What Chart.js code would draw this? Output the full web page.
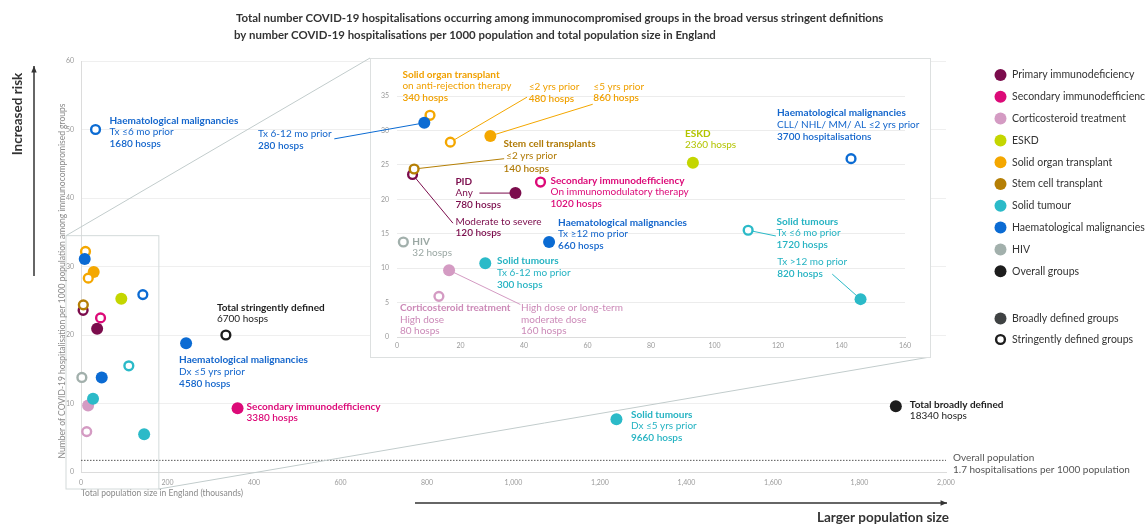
<!DOCTYPE html>
<html lang="en">
<head>
<meta charset="UTF-8">
<title>COVID-19 hospitalisations among immunocompromised groups</title>
<script src="https://cdn.jsdelivr.net/npm/chart.js"></script>
<style>
  html, body { margin: 0; padding: 0; background: #fff; }
  #wrap { position: relative; width: 1145px; height: 526px; }
  #wrap canvas { position: absolute; left: 0; top: 0; }
  #insetChart { pointer-events: none; }
</style>
</head>
<body>
<div id="wrap">
  <canvas id="mainChart" width="1145" height="526"></canvas>
  <canvas id="insetChart" width="1145" height="526"></canvas>
</div>

<script>
// ---- data ----
const groups = ['Primary immunodeficiency', 'Secondary immunodefficiency', 'Corticosteroid treatment', 'ESKD',
  'Solid organ transplant', 'Stem cell transplant', 'Solid tumour', 'Haematological malignancies', 'HIV', 'Overall groups'];

// one entry per point
const pointGroup   = [0, 0, 1, 1, 2, 2, 3, 4, 4, 4, 5, 6, 6, 6, 6, 7, 7, 7, 7, 7, 8, 9, 9];
const pointBroad   = [true, false, true, false, true, false, true, true, false, false, false,
                      true, false, true, true, true, false, false, true, true, false, false, true];
const populationK  = [37.3, 4.9, 362, 45.2, 16.4, 13.2, 93.2, 29.4, 16.8, 10.4, 5.4,
                      1238, 110.6, 27.8, 146, 243, 143, 33.6, 8.6, 47.9, 2.0, 335, 1884];
const hospsPer1000 = [20.9, 23.6, 9.3, 22.5, 9.7, 5.9, 25.3, 29.2, 28.3, 32.2, 24.4,
                      7.7, 15.5, 10.7, 5.5, 18.8, 25.9, 50.0, 31.1, 13.8, 13.8, 20.0, 9.6];
const hospitalisations = [780, 120, 3380, 1020, 160, 80, 2360, 860, 480, 340, 140,
                      9660, 1720, 300, 820, 4580, 3700, 1680, 280, 660, 32, 6700, 18340];

const overallRate = 1.7;
const xTicksMain = [0, 200, 400, 600, 800, 1000, 1200, 1400, 1600, 1800, 2000];
const yTicksMain = [0, 10, 20, 30, 40, 50, 60];
const xTicksInset = [0, 20, 40, 60, 80, 100, 120, 140, 160];
const yTicksInset = [0, 5, 10, 15, 20, 25, 30, 35];

// ---- styles ----
const groupColours = ['#7b0c4c', '#dc0a78', '#d49bc3', '#c4d600', '#f4a700', '#b57f05', '#2bbac8', '#0b6bd3', '#a2b0ac', '#1d1d1d'];
const textColours  = ['#7b0c4c', '#dc0a78', '#cc8ab8', '#b3c400', '#f0a000', '#b07a05', '#25b3c2', '#1466cc', '#9aa7a3', '#1d1d1d'];
const FONT = 'Lato, "Open Sans", sans-serif';
Chart.defaults.font.family = FONT;

// inset panel on the page
const panel = { left: 370, top: 58, right: 930, bottom: 357 };

// text notes: offsets from the point, in pixels; weights b=bold n=normal s=semibold
const mainNotes = [
  { pt: 17, dx: 14, dy: -9, w: 'bns', lines: ['Haematological malignancies', 'Tx ≤6 mo prior', '{n} hosps'] },
  { pt: 21, dx: -9, dy: -27.5, w: 'bn', lines: ['Total stringently defined', '{n} hosps'] },
  { pt: 15, dx: -7, dy: 16.7, w: 'bns', lines: ['Haematological malignancies', 'Dx ≤5 yrs prior', '{n} hosps'] },
  { pt: 2, dx: 9, dy: -2, w: 'bs', lines: ['Secondary immunodefficiency', '{n} hosps'] },
  { pt: 11, dx: 14.5, dy: -4.7, w: 'bns', lines: ['Solid tumours', 'Dx ≤5 yrs prior', '{n} hosps'] },
  { pt: 22, dx: 14, dy: -1.7, w: 'bn', lines: ['Total broadly defined', '{n} hosps'] }
];
const insetNotes = [
  { pt: 9, dx: -27.6, dy: -40.7, w: 'bns', lines: ['Solid organ transplant', 'on anti-rejection therapy', '{n} hosps'] },
  { pt: 8, dx: 78.3, dy: -55, w: 'ns', lines: ['≤2 yrs prior', '{n} hosps'], lead: [76.7, -45] },
  { pt: 7, dx: 103, dy: -49.4, w: 'ns', lines: ['≤5 yrs prior', '{n} hosps'], lead: [102.4, -31.7] },
  { pt: 10, dx: 89.4, dy: -25.3, w: 'bns', lh: 12.4, lines: ['Stem cell transplants', ' ≤2 yrs prior', '{n} hosps'], lead: [90, -10.3] },
  { pt: 0, dx: -60, dy: -11.6, w: 'bns', lines: ['PID', 'Any', '{n} hosps'], lead: [-36, 0] },
  { pt: 1, dx: 43, dy: 47, w: 'ns', lines: ['Moderate to severe', '{n} hosps'], lead: [40.4, 48.7] },
  { pt: 3, dx: 10, dy: -1.7, w: 'bns', lines: ['Secondary immunodefficiency', 'On immunomodulatory therapy', '{n} hosps'] },
  { pt: 19, dx: 9, dy: -19.4, w: 'bns', lines: ['Haematological malignancies', 'Tx ≥12 mo prior', '{n} hosps'] },
  { pt: 20, dx: 9, dy: -0.4, w: 'bn', lines: ['HIV', '{n} hosps'] },
  { pt: 13, dx: 11.7, dy: -2.3, w: 'bns', lines: ['Solid tumours', 'Tx 6-12 mo prior', '{n} hosps'] },
  { pt: 5, dx: -39, dy: 11.3, w: 'bnn', lines: ['Corticosteroid treatment', 'High dose', '{n} hosps'] },
  { pt: 4, dx: 72, dy: 37.6, w: 'nnn', lines: ['High dose or long-term', 'moderate dose', '{n} hosps'], lead: [71.3, 34.3] },
  { pt: 6, dx: -8, dy: -29.3, w: 'bn', lines: ['ESKD', '{n} hosps'] },
  { pt: 16, dx: -74, dy: -45.7, w: 'bns', lines: ['Haematological malignancies', 'CLL/ NHL/ MM/ AL ≤2 yrs prior', '{n} hospitalisations'] },
  { pt: 12, dx: 28.4, dy: -8.7, w: 'bns', lines: ['Solid tumours', 'Tx ≤6 mo prior', '{n} hosps'], lead: [27.7, 5.7] },
  { pt: 14, dx: -83.3, dy: -37, w: 'ns', lines: ['Tx >12 mo prior', '{n} hosps'], lead: [-28.3, -25] },
  { pt: 18, dx: -166.3, dy: 11.3, w: 'ns', lines: ['Tx 6-12 mo prior', '{n} hosps'], lead: [-90, 16] }
];

// ---- helpers ----
function pointPx(chart, i) {
  return { x: chart.scales.x.getPixelForValue(populationK[i]), y: chart.scales.y.getPixelForValue(hospsPer1000[i]) };
}

function drawLeaders(chart, notes) {
  const ctx = chart.ctx;
  ctx.save();
  ctx.lineWidth = 1;
  notes.filter(n => n.lead).forEach(n => {
    const p = pointPx(chart, n.pt);
    ctx.strokeStyle = groupColours[pointGroup[n.pt]];
    ctx.beginPath();
    ctx.moveTo(p.x, p.y);
    ctx.lineTo(p.x + n.lead[0], p.y + n.lead[1]);
    ctx.stroke();
  });
  ctx.restore();
}

function drawNotes(chart, notes) {
  const ctx = chart.ctx;
  ctx.save();
  ctx.textAlign = 'left';
  ctx.textBaseline = 'middle';
  notes.forEach(n => {
    const p = pointPx(chart, n.pt);
    const lh = n.lh || 11.7;
    ctx.fillStyle = textColours[pointGroup[n.pt]];
    n.lines.forEach((s, k) => {
      const wt = { b: 'bold', s: '600', n: 'normal' }[n.w[k]];
      ctx.font = wt + ' 10px ' + FONT;
      ctx.fillText(s.replace('{n}', hospitalisations[n.pt]), p.x + n.dx, p.y + n.dy + k * lh);
    });
  });
  ctx.restore();
}

function arrow(ctx, x1, y1, x2, y2) {
  const a = Math.atan2(y2 - y1, x2 - x1);
  ctx.beginPath();
  ctx.moveTo(x1, y1);
  ctx.lineTo(x2, y2);
  ctx.stroke();
  ctx.beginPath();
  ctx.moveTo(x2, y2);
  ctx.lineTo(x2 - 7 * Math.cos(a - 0.4), y2 - 7 * Math.sin(a - 0.4));
  ctx.lineTo(x2 - 7 * Math.cos(a + 0.4), y2 - 7 * Math.sin(a + 0.4));
  ctx.closePath();
  ctx.fill();
}

function pointDataset(indices) {
  return {
    data: indices.map(i => ({ x: populationK[i], y: hospsPer1000[i] })),
    backgroundColor: indices.map(i => pointBroad[i] ? groupColours[pointGroup[i]] : '#ffffff'),
    borderColor: indices.map(i => groupColours[pointGroup[i]]),
    borderWidth: indices.map(i => pointBroad[i] ? 0 : 2.4),
    pointRadius: indices.map(i => pointBroad[i] ? 6 : 4.4),
    clip: false
  };
}

// ---- main chart plugin: titles, legend, zoom box, notes ----
const mainDecor = {
  id: 'mainDecor',
  beforeDatasetsDraw(chart) { drawLeaders(chart, mainNotes); },
  afterDatasetsDraw(chart) {
    const ctx = chart.ctx, xs = chart.scales.x, ys = chart.scales.y, area = chart.chartArea;
    drawNotes(chart, mainNotes);

    // overall population note
    ctx.save();
    ctx.fillStyle = '#555';
    ctx.font = '10px ' + FONT;
    ctx.textBaseline = 'middle';
    const yl = ys.getPixelForValue(overallRate);
    ctx.fillText('Overall population', area.right + 7, yl - 2.5);
    ctx.fillText('1.7 hospitalisations per 1000 population', area.right + 7, yl + 9);

    // zoom box and connectors to the inset
    const bx1 = xs.getPixelForValue(0) - 15, bx2 = xs.getPixelForValue(180);
    const by1 = ys.getPixelForValue(34.5), by2 = area.bottom + 17;
    ctx.strokeStyle = '#d3dada';
    ctx.lineWidth = 1;
    ctx.strokeRect(bx1, by1, bx2 - bx1, by2 - by1);
    ctx.strokeStyle = '#c2cccc';
    ctx.beginPath();
    ctx.moveTo(bx1, by1); ctx.lineTo(panel.left, panel.top);
    ctx.moveTo(bx2, by2); ctx.lineTo(panel.right, panel.bottom);
    ctx.stroke();

    // chart title
    ctx.fillStyle = '#333';
    ctx.textAlign = 'left';
    ctx.font = 'bold 13px ' + FONT;
    const t1 = 'Total number COVID-19 hospitalisations occurring among immunocompromised groups in the broad versus stringent definitions';
    const size = 13 * 648 / ctx.measureText(t1).width;
    ctx.font = 'bold ' + size.toFixed(2) + 'px ' + FONT;
    ctx.fillText(t1, 236, 18);
    ctx.fillText('by number COVID-19 hospitalisations per 1000 population and total population size in England', 234, 35);

    // y axis title
    ctx.save();
    ctx.translate(62, 281);
    ctx.rotate(-Math.PI / 2);
    ctx.textAlign = 'center';
    ctx.fillStyle = '#8a8a8a';
    ctx.font = '8.5px ' + FONT;
    ctx.fillText('Number of COVID-19 hospitalisation per 1000 population among immunocompromised groups', 0, 0);
    ctx.restore();

    // risk / population arrows
    ctx.fillStyle = '#333';
    ctx.strokeStyle = '#333';
    ctx.lineWidth = 1.5;
    arrow(ctx, 34, 276, 34, 66);
    arrow(ctx, 415, 503, 947, 503);
    ctx.font = 'bold 13.5px ' + FONT;
    ctx.textAlign = 'center';
    ctx.fillText('Larger population size', 883, 518);
    ctx.save();
    ctx.translate(18, 114);
    ctx.rotate(-Math.PI / 2);
    ctx.fillText('Increased risk', 0, 0);
    ctx.restore();

    // legend
    ctx.textAlign = 'left';
    ctx.font = '10.5px ' + FONT;
    groups.forEach((g, i) => {
      const y = 75 + i * 21.8;
      ctx.fillStyle = groupColours[i];
      ctx.beginPath(); ctx.arc(1000.5, y, 6, 0, Math.PI * 2); ctx.fill();
      ctx.fillStyle = '#333';
      ctx.fillText(g, 1012, y);
    });
    ctx.fillStyle = '#3f4243';
    ctx.beginPath(); ctx.arc(1000.5, 318.5, 6, 0, Math.PI * 2); ctx.fill();
    ctx.strokeStyle = '#1d1d1d';
    ctx.lineWidth = 2.4;
    ctx.beginPath(); ctx.arc(1000.5, 339.5, 4.4, 0, Math.PI * 2); ctx.stroke();
    ctx.fillStyle = '#333';
    ctx.fillText('Broadly defined groups', 1012, 318.5);
    ctx.fillText('Stringently defined groups', 1012, 339.5);
    ctx.restore();
  }
};

const allPoints = populationK.map((_, i) => i);

new Chart(document.getElementById('mainChart'), {
  type: 'scatter',
  data: {
    datasets: [
      pointDataset(allPoints),
      {
        type: 'line',
        data: [{ x: 0, y: overallRate }, { x: 2000, y: overallRate }],
        borderColor: '#555',
        borderWidth: 1,
        borderDash: [1.5, 1.5],
        pointRadius: 0,
        showLine: true
      }
    ]
  },
  options: {
    responsive: false,
    animation: false,
    events: [],
    layout: { padding: { left: 54, top: 61, right: 199, bottom: 0 } },
    plugins: { legend: { display: false }, tooltip: { enabled: false } },
    scales: {
      x: {
        type: 'linear', min: 0, max: 2000,
        afterBuildTicks: s => { s.ticks = xTicksMain.map(v => ({ value: v })); },
        afterFit: s => { s.height = 54; },
        grid: { display: false, drawTicks: false },
        border: { display: true, color: '#dcdcdc' },
        ticks: { font: { size: 7 }, color: '#9a9a9a', padding: 7, maxRotation: 0, autoSkip: false },
        title: { display: true, text: 'Total population size in England (thousands)', align: 'start',
                 color: '#8a8a8a', font: { size: 8.5 }, padding: { top: 0, bottom: 28 } }
      },
      y: {
        type: 'linear', min: 0, max: 60,
        afterBuildTicks: s => { s.ticks = yTicksMain.map(v => ({ value: v })); },
        afterFit: s => { s.width = 27; },
        grid: { color: '#efefef', drawTicks: false },
        border: { display: true, color: '#dcdcdc' },
        ticks: { font: { size: 7 }, color: '#9a9a9a', padding: 7 }
      }
    }
  },
  plugins: [mainDecor]
});

// ---- inset (zoom on the small groups) ----
const insetIdx = allPoints.filter(i => populationK[i] <= 160 && hospsPer1000[i] <= 35);

const insetDecor = {
  id: 'insetDecor',
  beforeDraw(chart) {
    const ctx = chart.ctx;
    ctx.save();
    ctx.fillStyle = '#ffffff';
    ctx.fillRect(panel.left, panel.top, panel.right - panel.left, panel.bottom - panel.top);
    ctx.strokeStyle = '#dde0e0';
    ctx.lineWidth = 1;
    ctx.strokeRect(panel.left + 0.5, panel.top + 0.5, panel.right - panel.left, panel.bottom - panel.top);
    ctx.restore();
  },
  beforeDatasetsDraw(chart) { drawLeaders(chart, insetNotes); },
  afterDatasetsDraw(chart) { drawNotes(chart, insetNotes); }
};

new Chart(document.getElementById('insetChart'), {
  type: 'scatter',
  data: { datasets: [pointDataset(insetIdx)] },
  options: {
    responsive: false,
    animation: false,
    events: [],
    layout: { padding: { left: panel.left, top: 96, right: 1145 - 905, bottom: 526 - 337 - 18 } },
    plugins: { legend: { display: false }, tooltip: { enabled: false } },
    scales: {
      x: {
        type: 'linear', min: 0, max: 160,
        afterBuildTicks: s => { s.ticks = xTicksInset.map(v => ({ value: v })); },
        afterFit: s => { s.height = 18; },
        grid: { display: false, drawTicks: false },
        border: { display: true, color: '#dcdcdc' },
        ticks: { font: { size: 7 }, color: '#9a9a9a', padding: 5, maxRotation: 0, autoSkip: false }
      },
      y: {
        type: 'linear', min: 0, max: 35,
        afterBuildTicks: s => { s.ticks = yTicksInset.map(v => ({ value: v })); },
        afterFit: s => { s.width = 27; },
        grid: { color: '#ececec', drawTicks: false },
        border: { display: false },
        ticks: { font: { size: 7 }, color: '#9a9a9a', padding: 8 }
      }
    }
  },
  plugins: [insetDecor]
});
</script>
</body>
</html>
